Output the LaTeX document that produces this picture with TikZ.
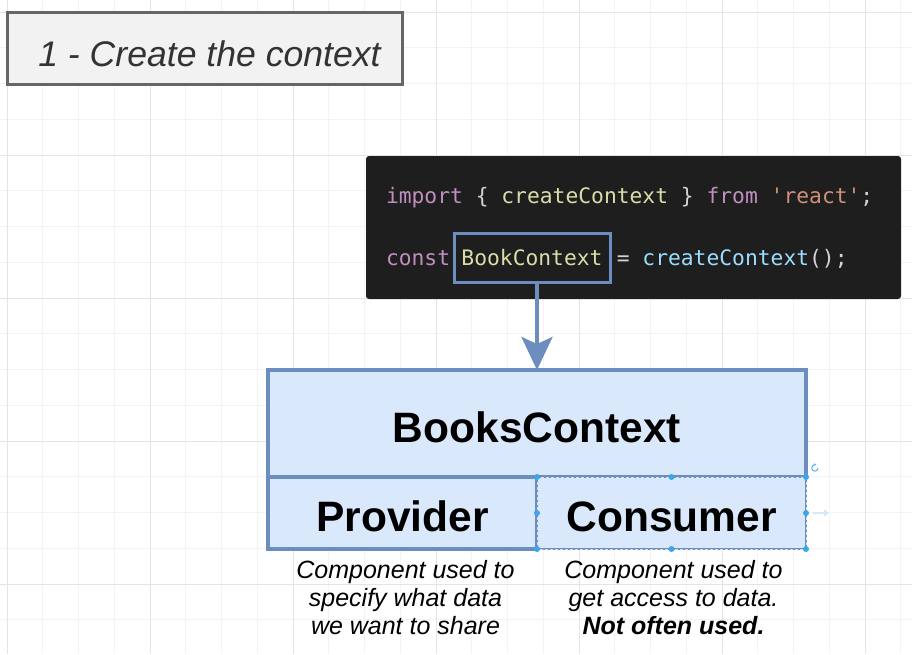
\documentclass[tikz,border=0pt]{standalone}
\usepackage{fontspec}
\setmainfont{Liberation Sans}
\setmonofont{DejaVu Sans Mono}
\usetikzlibrary{positioning,arrows.meta}
\definecolor{gridminor}{HTML}{F3F3F3}
\definecolor{gridmajor}{HTML}{E4E4E4}
\definecolor{titlefill}{HTML}{F2F2F2}
\definecolor{titleline}{HTML}{666666}
\definecolor{codebg}{HTML}{1E1E1E}
\definecolor{kwcol}{HTML}{C08FC0}
\definecolor{fncol}{HTML}{DCDCAA}
\definecolor{strcol}{HTML}{CE9178}
\definecolor{varcol}{HTML}{9CDCFE}
\definecolor{punctcol}{HTML}{D4D4D4}
\definecolor{ctxfill}{HTML}{DAE8FC}
\definecolor{ctxline}{HTML}{6C8EBF}
\definecolor{handle}{HTML}{3DA5EC}
\begin{document}
\begin{tikzpicture}[%
    x = 1pt, y = -1pt,
    every node/.style = {inner sep=0pt, outer sep=0pt},
    titlebox/.style = {draw=titleline, fill=titlefill, line width=3pt, minimum width=395pt, minimum height=72pt, text height=36pt, text depth=0pt, text=black!80, font=\fontsize{35.6}{40}\selectfont\itshape},
    codebox/.style = {fill=codebg, rounded corners=3pt, minimum width=535pt, minimum height=143pt},
    codetext/.style = {anchor=base west, text=punctcol, font=\fontsize{21.3}{24}\selectfont\ttfamily},
    ctxbox/.style = {draw=ctxline, line width=3pt, minimum width=156pt, minimum height=49pt, text=fncol, font=\fontsize{21.3}{24}\selectfont\ttfamily},
    cell/.style = {draw=ctxline, fill=ctxfill, line width=3.5pt, text height=37pt, text depth=0pt, font=\fontsize{42.5}{46}\selectfont\bfseries},
    note/.style = {align=center, font=\fontsize{25}{28}\selectfont\itshape},
    link/.style = {draw=ctxline, line width=3.5pt, -{Stealth[length=33pt, width=31pt, inset=7pt]}},
    handledot/.style = {circle, fill=handle, minimum size=6pt},
    selframe/.style = {draw=white!70!ctxline, line width=1pt, dash pattern=on 3pt off 2pt}
  ]
    % page and grid
    \useasboundingbox (0,0) rectangle (912,654);
    \fill[white] (0,0) rectangle (912,654);
    \foreach \i in {0,...,25} {\draw[gridminor, line width=0.8pt] ({7+35.75*\i},0) -- ++(0,654);}
    \foreach \j in {0,...,17} {\draw[gridminor, line width=0.8pt] (0,{12+35.75*\j}) -- ++(912,0);}
    \foreach \i in {0,...,6} {\draw[gridmajor, line width=0.8pt] ({7+143*\i},0) -- ++(0,654);}
    \foreach \j in {0,...,4} {\draw[gridmajor, line width=0.8pt] (0,{12+143*\j}) -- ++(912,0);}

    \node[titlebox] (title) at (204.5,48) {\hspace*{10pt}1 - Create the context};

    % code snippet
    \node[codebox] (code) at (633.5,227.5) {};
    \node[codetext] (line1) at (386,203) {\textcolor{kwcol}{import} \{ \textcolor{fncol}{createContext} \} \textcolor{kwcol}{from} \textcolor{strcol}{'react'};};
    \node[codetext] (constkw) at (386,265) {\textcolor{kwcol}{const}};
    \node[ctxbox] (bookctx) at (532,257.5) {BookContext};
    \node[codetext] (line2) at (616.8,265) {= \textcolor{varcol}{createContext}();};

    % context box
    \node[cell, minimum width=538pt, minimum height=107pt] (books) at (537,423.5) {BooksContext};
    \node[cell, minimum width=269pt, minimum height=72pt] (provider) at (402.5,513) {Provider};
    \node[cell, line width=1.5pt, minimum width=269pt, minimum height=72pt] (consumer) at (671.5,513) {Consumer};
    \draw[selframe] (consumer.north west) rectangle (consumer.south east);

    \draw[link] (bookctx.south -| books.north) -- (books.north);

    % selection handles
    \foreach \p [count=\i] in {north west, north, north east, east, south east, south, south west, west}
      \node[handledot] (handle\i) at (consumer.\p) {};
    \draw[handle, line width=0.8pt, -{Stealth[length=2pt, width=2.5pt]}] (818,468) arc (0:290:3.2);
    \coordinate (hintstart) at (813,513);
    \coordinate (hintend) at (829,513);
    \draw[handle!25, line width=1.5pt, -{Triangle[length=5pt, width=7pt]}] (hintstart) -- (hintend);

    \node[note, below=11pt of provider, xshift=3pt] (providernote) {Component used to\\specify what data\\we want to share};
    \node[note, below=11pt of consumer, xshift=2pt] (consumernote) {Component used to\\get access to data.\\\textbf{Not often used.}};
  \end{tikzpicture}
\end{document}
